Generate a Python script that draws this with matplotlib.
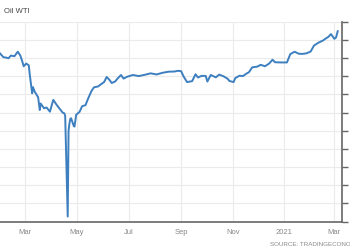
import matplotlib
matplotlib.use('Agg')
import matplotlib.pyplot as plt
import matplotlib.dates as mdates
import pandas as pd

plt.rcParams['font.family'] = ['Liberation Sans', 'DejaVu Sans']

dates = [
    "2020-01-31", "2020-02-04", "2020-02-07", "2020-02-10", "2020-02-13", "2020-02-17",
    "2020-02-21", "2020-02-24", "2020-02-26", "2020-02-28", "2020-03-02", "2020-03-05",
    "2020-03-06", "2020-03-09", "2020-03-10", "2020-03-12", "2020-03-16", "2020-03-18",
    "2020-03-19", "2020-03-23", "2020-03-26", "2020-03-30", "2020-04-02", "2020-04-03",
    "2020-04-07", "2020-04-10", "2020-04-14", "2020-04-16", "2020-04-17", "2020-04-20",
    "2020-04-21", "2020-04-22", "2020-04-23", "2020-04-24", "2020-04-27", "2020-04-28",
    "2020-04-30", "2020-05-04", "2020-05-07", "2020-05-11", "2020-05-14", "2020-05-18",
    "2020-05-21", "2020-05-26", "2020-05-29", "2020-06-02", "2020-06-05", "2020-06-08",
    "2020-06-11", "2020-06-15", "2020-06-18", "2020-06-22", "2020-06-25", "2020-06-29",
    "2020-07-06", "2020-07-13", "2020-07-20", "2020-07-27", "2020-08-03", "2020-08-10",
    "2020-08-17", "2020-08-24", "2020-08-28", "2020-09-01", "2020-09-04", "2020-09-08",
    "2020-09-14", "2020-09-18", "2020-09-21", "2020-09-25", "2020-09-30", "2020-10-02",
    "2020-10-06", "2020-10-12", "2020-10-16", "2020-10-21", "2020-10-26", "2020-10-28",
    "2020-11-02", "2020-11-04", "2020-11-09", "2020-11-13", "2020-11-17", "2020-11-20",
    "2020-11-24", "2020-11-30", "2020-12-04", "2020-12-09", "2020-12-14", "2020-12-18",
    "2020-12-21", "2020-12-28", "2021-01-04", "2021-01-08", "2021-01-13", "2021-01-18",
    "2021-01-22", "2021-01-27", "2021-02-01", "2021-02-05", "2021-02-10", "2021-02-16",
    "2021-02-18", "2021-02-22", "2021-02-25", "2021-03-01", "2021-03-03", "2021-03-05",
]
prices = [
    52.6, 50.5, 50.3, 49.9, 51.4, 51.0,
    53.5, 51.4, 48.7, 45.5, 47.0, 46.0,
    41.5, 30.6, 34.0, 31.5, 28.5, 21.4,
    25.0, 22.4, 22.8, 20.5, 25.5, 27.0,
    24.2, 22.4, 20.0, 19.6, 18.3, -37.2,
    10.0, 13.8, 16.5, 16.9, 12.8, 12.3,
    18.8, 20.4, 23.5, 24.1, 27.6, 31.8,
    33.9, 34.4, 35.5, 36.8, 39.6, 38.2,
    36.3, 37.1, 38.8, 40.7, 38.7, 39.7,
    40.7, 40.1, 40.8, 41.6, 41.0, 41.9,
    42.5, 42.6, 43.0, 42.8, 39.8, 36.8,
    37.3, 41.1, 39.3, 40.2, 40.2, 37.1,
    40.7, 39.4, 40.9, 40.0, 38.6, 37.4,
    36.8, 39.0, 40.3, 40.1, 41.4, 42.2,
    44.9, 45.3, 46.3, 45.5, 47.0, 49.1,
    47.7, 47.6, 47.6, 52.2, 53.5, 52.4,
    52.3, 52.6, 53.6, 56.9, 58.4, 59.8,
    60.5, 61.7, 63.2, 60.6, 61.3, 64.8,
]
tick_dates = ["2020-03-01", "2020-05-01", "2020-07-01", "2020-09-01",
              "2020-11-01", "2021-01-01", "2021-03-01"]
tick_labels = ["Mar", "May", "Jul", "Sep", "Nov", "2021", "Mar"]

x = pd.to_datetime(dates)

fig = plt.figure(figsize=(3.5, 2.5), dpi=100)
ax = fig.add_axes([0.0, 0.1136, 0.977, 0.7994])

ax.plot(x, prices, color='#3d7fbf', lw=1.4, solid_joinstyle='round')

ax.set_xlim(pd.Timestamp("2020-01-31"), pd.Timestamp("2021-03-10"))
ax.set_ylim(-40, 70)
ax.set_yticks(range(-40, 71, 10))
ax.set_xticks(pd.to_datetime(tick_dates))
ax.set_xticklabels(tick_labels)

ax.grid(True, color='#ebebeb', lw=0.8)
ax.set_axisbelow(True)

for s in ['top', 'left']:
    ax.spines[s].set_visible(False)
ax.spines['bottom'].set_color('#666666')
ax.spines['bottom'].set_linewidth(1.2)
ax.spines['right'].set_color('#666666')
ax.spines['right'].set_linewidth(1.2)

ax.yaxis.tick_right()
ax.tick_params(axis='y', length=4, width=1, color='#666666', labelright=False)
ax.tick_params(axis='x', length=0, pad=5, labelsize=5.5, labelcolor='#888888')

fig.text(0.01, 0.955, "Oil WTI", fontsize=5.5, color='#444444', va='center')
fig.text(0.771, 0.02, "SOURCE: TRADINGECONOMICS.COM", fontsize=4.5, color='#888888', va='center')

fig.savefig('out.png', dpi=100)
